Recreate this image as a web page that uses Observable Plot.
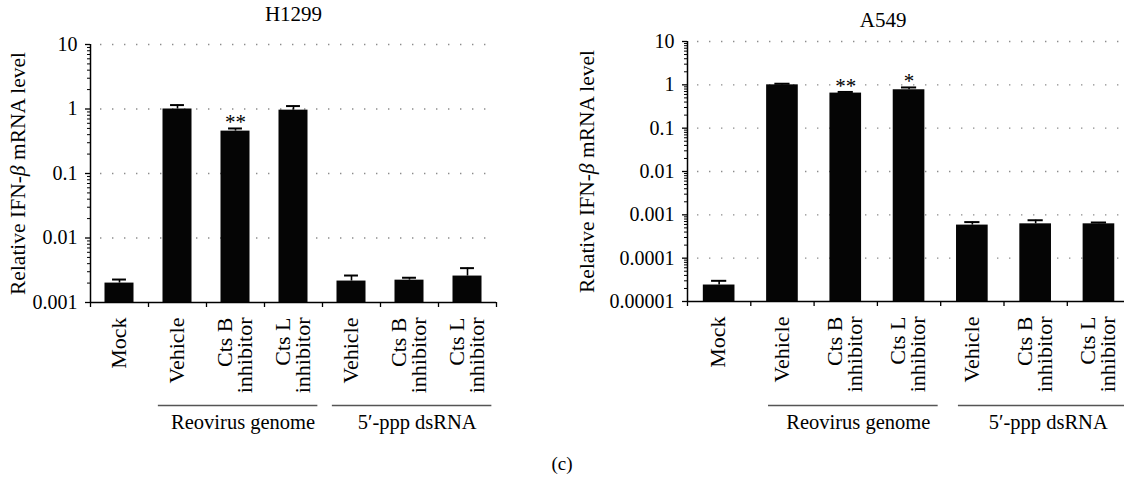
<!DOCTYPE html>
<html>
<head>
<meta charset="utf-8">
<script src="https://cdn.jsdelivr.net/npm/d3@7"></script>
<script src="https://cdn.jsdelivr.net/npm/@observablehq/plot@0.6"></script>
<style>
  html, body { margin: 0; padding: 0; background: #fff; overflow: hidden; }
  #root { position: relative; width: 1124px; height: 477px; font-family: "Liberation Serif", serif; }
  #root svg text { font-family: "Liberation Serif", serif; }
  #left { position: absolute; left: 0; top: 0; width: 560px; height: 477px; overflow: hidden; }
  #right { position: absolute; left: 560px; top: 0; width: 564px; height: 477px; overflow: hidden; }
  #caption { position: absolute; left: 532px; width: 60px; top: 453px; text-align: center; font-size: 19px; color: #000; }
</style>
</head>
<body>
<div id="root">
  <div id="left"></div>
  <div id="right"></div>
  <div id="caption">(c)</div>
</div>
<script>
// ---------- data ----------
const CATEGORIES = ["Mock", "Vehicle", "Cts B\ninhibitor", "Cts L\ninhibitor", "Vehicle", "Cts B\ninhibitor", "Cts L\ninhibitor"];
const GROUPS = [
  {label: "Reovirus genome", first: 1, last: 3},
  {label: "5\u2032-ppp dsRNA", first: 4, last: 6}
];
const Y_LABEL = "Relative IFN-\u03b2 mRNA level";

const H1299_TITLE = "H1299";
const H1299_VALUES = [0.0020, 1.00, 0.454, 0.96, 0.00215, 0.00222, 0.00257];
const H1299_ERRORS = [0.00027, 0.15, 0.045, 0.15, 0.00047, 0.00020, 0.00084];
const H1299_SIG = ["", "", "**", "", "", "", ""];
const H1299_TICKS = [10, 1, 0.1, 0.01, 0.001];
const H1299_TICK_LABELS = ["10", "1", "0.1", "0.01", "0.001"];

const A549_TITLE = "A549";
const A549_VALUES = [0.000024, 1.00, 0.645, 0.77, 0.00058, 0.00062, 0.00062];
const A549_ERRORS = [0.000006, 0.06, 0.04, 0.10, 0.00010, 0.00013, 0.000045];
const A549_SIG = ["", "", "**", "*", "", "", ""];
const A549_TICKS = [10, 1, 0.1, 0.01, 0.001, 0.0001, 0.00001];
const A549_TICK_LABELS = ["10", "1", "0.1", "0.01", "0.001", "0.0001", "0.00001"];

// ---------- drawing ----------
function panel(o) {
  const n = CATEGORIES.length;
  const data = o.values.map((v, i) => ({i, value: v, err: o.errors[i], sig: o.sig[i]}));
  const yMin = d3.min(o.ticks), yMax = d3.max(o.ticks);
  const minor = [];
  o.ticks.filter(t => t < yMax).forEach(t => { for (let k = 2; k <= 9; k++) minor.push(t * k); });
  const fmt = d => o.tickLabels[o.ticks.indexOf(d)];
  const gx1 = d => d.first + o.insetStart, gx2 = d => d.last + 1 - o.insetEnd;
  const chart = Plot.plot({
    width: o.width, height: 477,
    marginLeft: o.marginLeft, marginRight: o.marginRight,
    marginTop: o.marginTop, marginBottom: o.marginBottom,
    x: {domain: [0, n], range: [o.marginLeft, o.marginLeft + n * o.band], axis: null},
    y: {type: "log", domain: [yMin, yMax], axis: null},
    style: {fontFamily: "'Liberation Serif', serif", color: "#000", background: "#fff", overflow: "visible"},
    marks: [
      Plot.ruleY(o.ticks.filter(t => t > yMin), {stroke: "#8c8c8c", strokeWidth: 1.4, strokeDasharray: "1.4,10.6", strokeDashoffset: -10}),
      Plot.rectY(data, {x1: d => d.i + 0.25, x2: d => d.i + 0.75, y1: () => yMin, y2: "value", fill: "#050505"}),
      Plot.ruleX(data, {x: d => d.i + 0.5, y1: "value", y2: d => d.value + d.err, stroke: "#000", strokeWidth: 1.6}),
      Plot.ruleY(data, {y: d => d.value + d.err, x1: d => d.i + 0.38, x2: d => d.i + 0.62, stroke: "#000", strokeWidth: 2}),
      Plot.text(data.filter(d => d.sig), {x: d => d.i + 0.5, y: d => d.value + d.err, text: "sig", lineAnchor: "top", dy: -14, fontSize: 21}),
      Plot.ruleX([0], {stroke: "#000", strokeWidth: 1.5}),
      Plot.ruleY([yMin], {stroke: "#000", strokeWidth: 1.5}),
      Plot.axisY(o.ticks, {anchor: "left", tickSize: 5, tickPadding: 8, tickFormat: fmt, fontSize: 20, label: null, strokeWidth: 1.3}),
      Plot.axisY(minor, {anchor: "left", tickSize: 3, fill: "none", label: null, strokeWidth: 1}),
      Plot.axisX(d3.range(n + 1), {anchor: "bottom", tickSize: 5, fill: "none", label: null, strokeWidth: 1.3}),
      Plot.text(CATEGORIES, {x: (d, i) => i + 0.5, y: () => yMin, rotate: -90, textAnchor: "end", lineAnchor: "middle", lineHeight: 0.9, dy: 15, fontSize: 22}),
      Plot.ruleY(GROUPS, {y: () => yMin, x1: gx1, x2: gx2, dy: o.groupDy, stroke: "#555", strokeWidth: 1.7}),
      Plot.text(GROUPS, {x: d => (gx1(d) + gx2(d)) / 2, y: () => yMin, text: "label", dy: o.groupDy + 17, dx: 5, fontSize: 20.5}),
      Plot.text([o.title], {x: () => n / 2, frameAnchor: "top", lineAnchor: "middle", dx: o.titleDx, dy: o.titleDy, fontSize: 21}),
      Plot.text([Y_LABEL], {frameAnchor: "left", textAnchor: "middle", rotate: -90, dx: o.labelDx, fontSize: 21.5})
    ]
  });
  chart.querySelectorAll("text").forEach(t => {
    if (t.textContent === Y_LABEL) {
      t.innerHTML = 'Relative IFN-<tspan font-style="italic">\u03b2</tspan> mRNA level';
    }
  });
  return chart;
}

document.getElementById("left").append(panel({
  title: H1299_TITLE, values: H1299_VALUES, errors: H1299_ERRORS, sig: H1299_SIG,
  ticks: H1299_TICKS, tickLabels: H1299_TICK_LABELS,
  width: 560, band: 58, marginLeft: 90, marginRight: 64, marginTop: 44, marginBottom: 175,
  titleDx: 0, titleDy: -30, labelDx: -72, groupDy: 103, insetStart: 0.17, insetEnd: 0.08
}));

document.getElementById("right").append(panel({
  title: A549_TITLE, values: A549_VALUES, errors: A549_ERRORS, sig: A549_SIG,
  ticks: A549_TICKS, tickLabels: A549_TICK_LABELS,
  width: 564, band: 63.3, marginLeft: 127, marginRight: 0, marginTop: 41, marginBottom: 176,
  titleDx: -26, titleDy: -21, labelDx: -100, groupDy: 104, insetStart: 0.28, insetEnd: 0.04
}));
</script>
</body>
</html>
